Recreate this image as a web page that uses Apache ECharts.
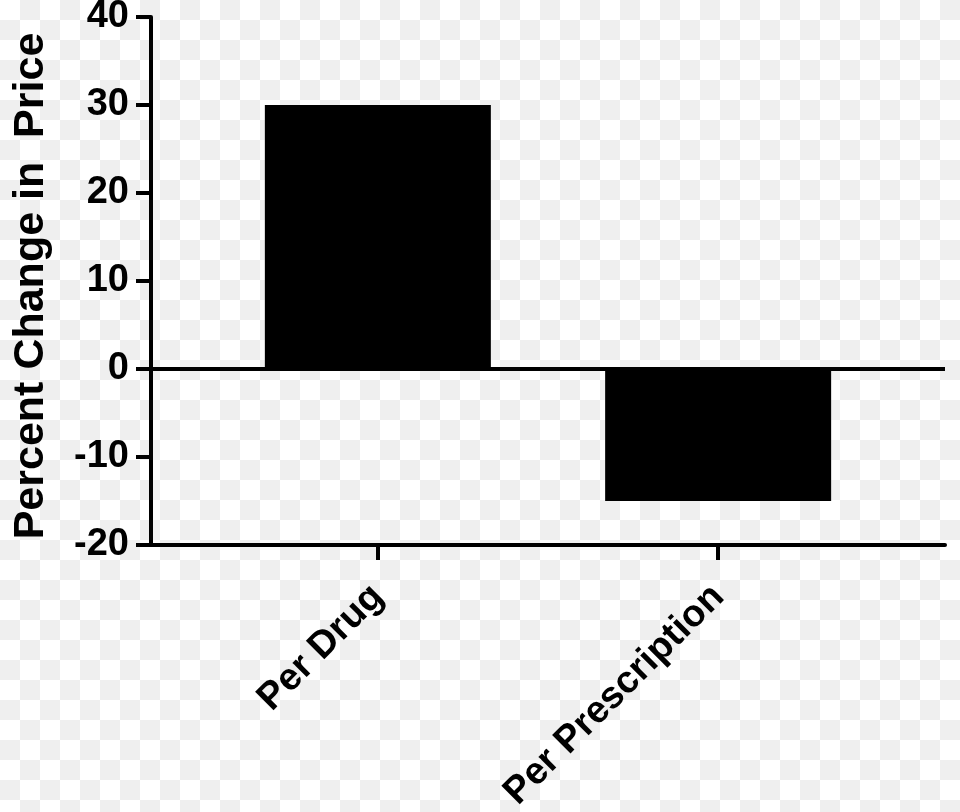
<!DOCTYPE html>
<html><head><meta charset="utf-8">
<script src="https://cdn.jsdelivr.net/npm/echarts@6/dist/echarts.min.js"></script>
<style>
html,body{margin:0;padding:0;}
body{background: repeating-conic-gradient(#efefef 0 25%, #ffffff 0 50%) 0 0/40px 40px;}
#c{width:960px;height:812px;}
</style></head><body><div id="c"></div>
<script>
const categories = ['Per Drug', 'Per Prescription'];
const positions = [1, 2];
const values = [30, -15];
const yAxisName = 'Percent Change in  Price';

const font = 'Liberation Sans, Arial, sans-serif';
const chart = echarts.init(document.getElementById('c'), null, {renderer: 'canvas'});
chart.setOption({
  animation: false,
  backgroundColor: 'transparent',
  grid: {left: 151, right: 15, top: 17, bottom: 267, outerBoundsMode: 'none', containLabel: false},
  xAxis: {
    type: 'value', min: 1/3, max: 8/3,
    axisLine: {show: true, onZero: false, lineStyle: {color: '#000', width: 4}},
    axisTick: {show: true, customValues: positions, length: 15, lineStyle: {color: '#000', width: 4}},
    axisLabel: {
      show: true, customValues: positions, rotate: 45, margin: 46,
      formatter: v => categories[positions.indexOf(Math.round(v))],
      fontSize: 38, fontWeight: 'bold', color: '#000', fontFamily: font
    },
    splitLine: {show: false}
  },
  yAxis: {
    type: 'value', min: -20, max: 40, interval: 10,
    name: yAxisName, nameLocation: 'middle', nameGap: 98,
    nameTextStyle: {fontSize: 43, fontWeight: 'bold', color: '#000', fontFamily: font, padding: [0, 10, 0, 0]},
    axisLine: {show: true, lineStyle: {color: '#000', width: 4}},
    axisTick: {show: true, length: 15, lineStyle: {color: '#000', width: 4}},
    axisLabel: {margin: 22, fontSize: 38, fontWeight: 'bold', color: '#000', fontFamily: font},
    splitLine: {show: false}
  },
  series: [{
    type: 'bar',
    data: positions.map((p, i) => [p, values[i]]),
    barWidth: 226,
    itemStyle: {color: '#000'},
    markLine: {
      silent: true, symbol: ['none', 'none'],
      label: {show: false},
      lineStyle: {color: '#000', width: 4, type: 'solid'},
      data: [{yAxis: 0}]
    }
  }]
});
</script></body></html>
